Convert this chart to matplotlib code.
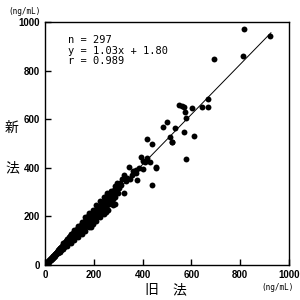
import matplotlib
matplotlib.use("Agg")
from matplotlib import pyplot as plt
import numpy as np

# old method (x) vs new method (y), ng/mL
x_old = [2, 4, 5, 6, 8, 9, 10, 11, 12, 13, 14, 15, 16, 17, 18, 19, 20, 21, 22, 23,
         24, 25, 26, 27, 28, 29, 30, 31, 32, 33, 34, 35, 36, 37, 38, 39, 40, 41, 42, 43,
         44, 45, 46, 47, 48, 49, 50, 51,
         52, 53, 54, 55, 56, 57, 58, 59, 60, 61, 62, 63, 64, 65, 66, 67, 68, 69, 70, 71,
         72, 73, 74, 75, 76, 77, 78, 79, 80, 81, 82, 83, 84, 85, 86, 87, 88, 89, 90, 91,
         92, 93, 94, 95, 96, 97, 98, 99, 100, 100,
         102, 103, 105, 106, 108, 109, 110, 112, 113, 115, 116, 118, 119, 120, 122, 123,
         125, 126, 128, 129, 130, 132, 133, 135, 136, 138, 139, 140, 142, 143, 145, 146,
         148, 149, 150,
         152, 154, 155, 157, 158, 160, 162, 163, 165, 167, 168, 170, 172, 174, 175, 177,
         178, 180, 182, 184, 185, 187, 189, 190, 192, 194, 195, 197, 199, 200,
         203, 205, 207, 210, 212, 215, 218, 220, 222, 225, 228, 230, 233, 235, 238, 240,
         243, 245, 248, 249, 252, 253, 255, 258, 260, 263, 266, 268, 270, 273, 276, 278,
         280, 283, 285, 287, 287, 290, 293, 296, 298, 300, 307,
         60, 75, 90, 105, 120, 135, 150, 165, 180, 195, 210, 225, 240, 255, 270,
         60, 75, 90, 105, 120, 135, 150, 165, 180, 195, 210, 225, 240, 260, 280,
         110, 125, 140, 155, 170, 185, 200, 215, 230, 245, 262, 275, 292, 305, 312, 330,
         335, 355, 360, 385, 410, 420,
         316, 324, 324, 344, 348, 372, 372, 376, 393, 400, 403, 419, 430, 437, 440, 456,
         456, 485, 501, 512, 519, 522, 533, 550, 560, 571, 570, 575, 579, 578, 601, 612,
         643, 667, 667, 694, 810, 816, 922]
y_new = [3, 5, 4, 8, 7, 10, 12, 10, 13, 14, 15, 14, 18, 16, 20, 19, 22, 20, 24, 22,
         26, 25, 28, 26, 30, 29, 33, 30, 35, 32, 36, 34, 39, 36, 41, 38, 44, 40, 45, 42,
         48, 44, 50, 46, 52, 48, 55, 50,
         58, 51, 60, 54, 62, 55, 64, 57, 67, 59, 68, 61, 70, 63, 73, 66, 75, 67, 78, 70,
         80, 71, 82, 74, 85, 75, 86, 78, 90, 78, 92, 82, 94, 84, 96, 85, 98, 88, 101, 88,
         104, 92, 106, 93, 108, 96, 112, 97, 114, 98,
         108, 118, 100, 120, 112, 125, 105, 118, 128, 110, 130, 122, 134, 112, 128, 138,
         120, 140, 132, 145, 124, 138, 150, 128, 148, 140, 156, 132, 148, 160, 138, 155,
         150, 165, 142,
         160, 170, 148, 165, 178, 152, 170, 182, 158, 175, 190, 162, 182, 195, 168, 185,
         200, 170, 190, 205, 178, 195, 158, 185, 205, 215, 190, 208, 180, 200,
         215, 225, 195, 218, 235, 205, 228, 240, 212, 235, 250, 222, 245, 260, 230, 250,
         265, 235, 258, 217, 270, 295, 245, 265, 280, 250, 275, 290, 262, 282, 300, 270,
         290, 310, 280, 251, 325, 300, 315, 336, 295, 320, 339,
         72, 90, 108, 126, 143, 160, 178, 196, 212, 228, 245, 262, 278, 290, 305,
         52, 64, 77, 90, 102, 115, 128, 140, 155, 168, 182, 196, 210, 228, 245,
         120, 135, 150, 165, 180, 195, 212, 228, 240, 255, 268, 285, 305, 318, 330, 345,
         360, 372, 385, 400, 425, 440,
         353, 370, 295, 405, 354, 391, 380, 350, 446, 428, 394, 517, 424, 497, 329, 405,
         398, 569, 590, 528, 507, 505, 562, 658, 654, 651, 549, 631, 436, 604, 647, 531,
         649, 649, 684, 848, 861, 970, 942]

slope, intercept = 1.03, 1.80
ticks = [0, 200, 400, 600, 800, 1000]

num_font = ['Liberation Sans Narrow', 'Liberation Sans', 'DejaVu Sans']
cjk_font = ['Noto Sans CJK JP', 'DejaVu Sans']

fig = plt.figure(figsize=(3, 3), dpi=100)
ax = fig.add_axes([45/300, 35/300, 244/300, 243/300])

ax.scatter(x_old, y_new, s=18, color='black', linewidths=0, zorder=3)
xl = np.array([0, 926])
ax.plot(xl, slope*xl + intercept, color='black', lw=0.7, zorder=2)

ax.set_xlim(0, 1000)
ax.set_ylim(0, 1000)
ax.set_xticks(ticks)
ax.set_yticks(ticks)
ax.tick_params(direction='in', length=4, width=1, pad=3.5)
for lab in ax.get_xticklabels() + ax.get_yticklabels():
    lab.set_family(num_font)
    lab.set_fontsize(7)
    lab.set_fontweight('bold')
for sp in ax.spines.values():
    sp.set_linewidth(1)

ax.text(0.095, 0.945, "n = 297\ny = 1.03x + 1.80\nr = 0.989", transform=ax.transAxes,
        family='DejaVu Sans Mono', fontsize=7.5, va='top', ha='left', linespacing=1.05)

fig.text(25/300, 1 - 12/300, "(ng/mL)", family='DejaVu Sans Mono', fontsize=5.5,
         ha='center', va='center')
fig.text(278/300, 1 - 288/300, "(ng/mL)", family='DejaVu Sans Mono', fontsize=5.5,
         ha='center', va='center')

fig.text(12/300, 1 - 128/300, "新", family=cjk_font, fontsize=10, ha='center', va='center')
fig.text(12/300, 1 - 168/300, "法", family=cjk_font, fontsize=10, ha='center', va='center')
fig.text(151/300, 1 - 290/300, "旧", family=cjk_font, fontsize=10, ha='center', va='center')
fig.text(179/300, 1 - 290/300, "法", family=cjk_font, fontsize=10, ha='center', va='center')

fig.savefig("out.png", dpi=100)
